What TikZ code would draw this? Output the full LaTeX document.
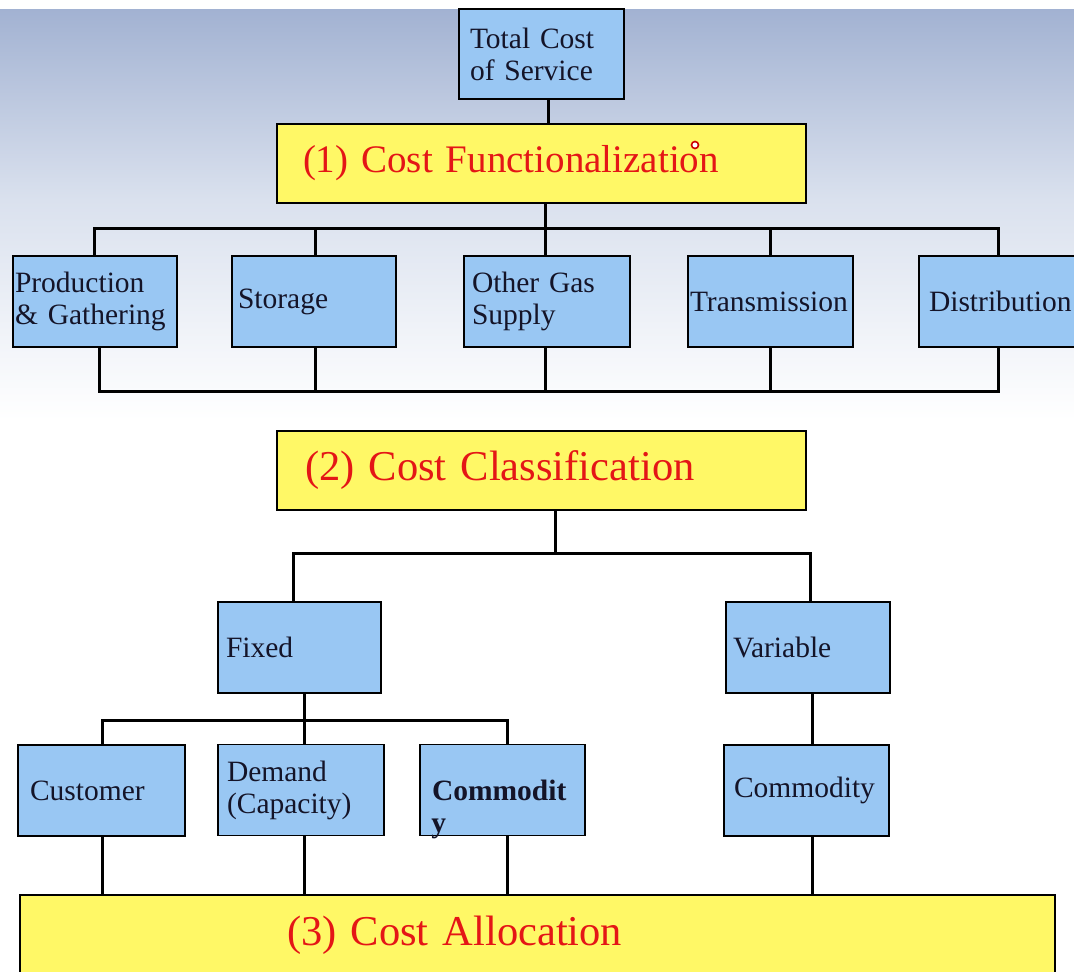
\documentclass[tikz,border=0pt]{standalone}
\usepackage{fontspec}
\setmainfont{Liberation Serif}
\definecolor{boxblue}{RGB}{153,199,243}
\definecolor{ylw}{RGB}{255,248,102}
\definecolor{redtxt}{RGB}{228,22,22}
\definecolor{txt}{RGB}{20,20,40}
\definecolor{bgtop}{RGB}{162,178,210}
\definecolor{bgmid}{RGB}{218,225,238}
\begin{document}
\begin{tikzpicture}[x=1pt,y=-1pt,
  bluebox/.style={draw=black, line width=1.8pt, fill=boxblue, rectangle,
    minimum height=91pt, align=left, text=txt, inner ysep=0pt,
    font=\fontsize{29.5}{32}\selectfont},
  ylwbox/.style={draw=black, line width=1.8pt, fill=ylw, rectangle,
    minimum height=79pt, align=left, text=redtxt, inner ysep=0pt,
    font=\fontsize{39}{43}\selectfont},
  bigtext/.style={font=\fontsize{42.5}{46}\selectfont},
  conn/.style={draw=black, line width=3pt}]
\useasboundingbox (0,0) rectangle (1074,972);
\clip (0,0) rectangle (1074,972);
\fill[white] (0,0) rectangle (1074,972);
\shade[top color=bgtop, bottom color=bgmid] (0,9) rectangle (1074,200);
\shade[top color=bgmid, bottom color=white] (0,200) rectangle (1074,420);

% nodes
\node[bluebox, minimum height=90pt, inner xsep=11pt, text width=143pt] (tcs) at (541.5,54) {Total Cost\\of Service};
\node[ylwbox, inner xsep=26pt, text width=477pt] (func) at (541.5,163.5) {(1) Cost Functionalization};

\node[bluebox, inner xsep=2pt, text width=160pt] (prod) at (95,301.5) {Production\\\& Gathering};
\node[bluebox, inner xsep=6pt, text width=152pt] (stor) at (314,301.5) {Storage};
\node[bluebox, inner xsep=8pt, text width=150pt] (oth) at (547,301.5) {Other Gas\\Supply};
\node[bluebox, inner xsep=2pt, text width=161pt] (trans) at (770.5,301.5) {Transmission};
\node[bluebox, inner xsep=10pt, text width=150pt] (dist) at (1004,301.5) {Distribution};

\node[ylwbox, bigtext, inner xsep=28pt, text width=473pt] (class) at (541.5,470.5) {(2) Cost Classification};

\node[bluebox, inner xsep=8pt, text width=147pt] (fixed) at (299.5,647.5) {Fixed};
\node[bluebox, inner xsep=7pt, text width=150pt] (var) at (808,647.5) {Variable};

\node[bluebox, inner xsep=12pt, text width=143pt] (cust) at (101.5,790.5) {Customer};
\node[bluebox, inner xsep=9pt, text width=148pt] (dem) at (301,790) {Demand\\(Capacity)};
\node[bluebox, inner xsep=12pt, text width=141pt,
  label={[name=commy, anchor=north west, inner sep=0pt, text=txt, xshift=12pt, yshift=18pt,
    font=\fontsize{29.5}{32}\selectfont\bfseries]south west:y}] (comm1) at (502.5,790) {\textbf{Commodit}};
\node[bluebox, inner xsep=10pt, text width=145pt] (comm2) at (806.5,790.5) {Commodity};

\node[ylwbox, bigtext, minimum height=80pt, inner xsep=267pt, text width=501pt] (alloc) at (537.5,935) {(3) Cost Allocation};

% connectors
\coordinate (b1) at (0,228);
\coordinate (b2) at (0,391);
\coordinate (b3) at (0,553);
\coordinate (b4) at (0,720);

\draw[conn] ([xshift=6.5pt]tcs.south) -- ([xshift=6.5pt]tcs.south |- func.north);
\draw[conn] ([xshift=3.5pt]func.south) -- ([xshift=3.5pt]func.south |- b1);
\draw[conn] ([xshift=-1pt]prod.north) |- ([xshift=-6pt]dist.north |- b1) -- ([xshift=-6pt]dist.north);
\draw[conn] ([xshift=1pt]stor.north) -- ([xshift=1pt]stor.north |- b1);
\draw[conn] ([xshift=-2pt]oth.north) -- ([xshift=-2pt]oth.north |- b1);
\draw[conn] (trans.north) -- (trans.north |- b1);

\draw[conn] ([xshift=4pt]prod.south) |- ([xshift=-6pt]dist.south |- b2) -- ([xshift=-6pt]dist.south);
\draw[conn] ([xshift=1pt]stor.south) -- ([xshift=1pt]stor.south |- b2);
\draw[conn] ([xshift=-2pt]oth.south) -- ([xshift=-2pt]oth.south |- b2);
\draw[conn] (trans.south) -- (trans.south |- b2);

\draw[conn] ([xshift=13.5pt]class.south) -- ([xshift=13.5pt]class.south |- b3);
\draw[conn] ([xshift=-6.5pt]fixed.north) |- ([xshift=2pt]var.north |- b3) -- ([xshift=2pt]var.north);

\draw[conn] ([xshift=4.5pt]fixed.south) -- ([xshift=4.5pt]fixed.south |- b4);
\draw[conn] ([xshift=0.5pt]cust.north) |- ([xshift=4.5pt]comm1.north |- b4) -- ([xshift=4.5pt]comm1.north);
\draw[conn] ([xshift=3pt]dem.north) -- ([xshift=3pt]dem.north |- b4);
\draw[conn] ([xshift=4pt]var.south) -- ([xshift=4pt]var.south |- comm2.north);

\draw[conn] ([xshift=0.5pt]cust.south) -- ([xshift=0.5pt]cust.south |- alloc.north);
\draw[conn] ([xshift=3pt]dem.south) -- ([xshift=3pt]dem.south |- alloc.north);
\draw[conn] ([xshift=4.5pt]comm1.south) -- ([xshift=4.5pt]comm1.south |- alloc.north);
\draw[conn] ([xshift=5.5pt]comm2.south) -- ([xshift=5.5pt]comm2.south |- alloc.north);

% pointer mark
\draw[red!80!black, line width=1.6pt, fill=white] (695,145) circle (3.5);
\end{tikzpicture}
\end{document}
